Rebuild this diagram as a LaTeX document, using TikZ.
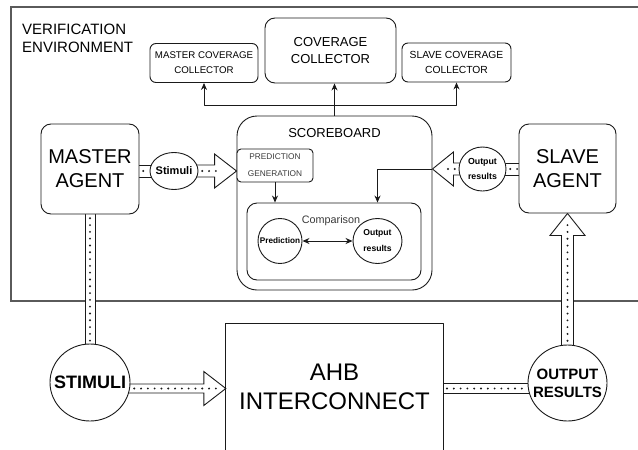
\documentclass[tikz,border=0pt]{standalone}
\usepackage{fontspec}
\setmainfont{Liberation Sans}
\usetikzlibrary{shapes.geometric,calc,arrows.meta}
\pgfdeclarelayer{back}
\pgfdeclarelayer{mid}
\pgfsetlayers{back,mid,main}
\definecolor{ink}{HTML}{1A1A1A}
\definecolor{framegray}{HTML}{5A5A5A}
\definecolor{soft}{HTML}{3A3A3A}
\newcommand{\fs}[2]{\fontsize{#1}{#2}\selectfont}

\begin{document}
\begin{tikzpicture}[x=1pt,y=-1pt,line join=round,
  box/.style={draw=ink, line width=0.9pt, fill=white, rounded corners=#1, inner sep=0pt, align=center},
  ell/.style={ellipse, draw=ink, line width=0.9pt, fill=white, inner sep=0pt},
  lbl/.style={inner sep=0pt, align=center, text=black},
  pipe/.style={draw=ink, line width=0.9pt, fill=white},
  dots/.style={draw=ink, line width=2.1pt, line cap=round, dash pattern=on 0pt off 6.8pt, dash phase=3pt},
  link/.style={draw=ink, line width=0.9pt, -{Stealth[length=7pt,width=6pt]}},
  frame/.style={draw=framegray, line width=1.5pt}]
\useasboundingbox (0,0) rectangle (638,450);

% verification environment frame, open to the right
\begin{pgfonlayer}{back}
  \draw[frame] (640,7) -- (11,7) -- (11,301) -- (640,301);
\end{pgfonlayer}
\node[anchor=north west, inner sep=0pt, align=left, font=\fs{15}{18}] (VE) at (22,24) {VERIFICATION\\ENVIRONMENT};

% agents
\node[box=10pt, minimum width=98pt, minimum height=90pt, font=\fs{20}{24}] (MA) at (90,169) {MASTER\\AGENT};
\node[box=10pt, minimum width=97pt, minimum height=89pt, font=\fs{20}{24}] (SA) at (567.5,168.5) {SLAVE\\AGENT};

% transaction bubbles near the agents
\node[ell, minimum width=48pt, minimum height=37pt, label={[lbl, font=\bfseries\fs{11}{13}]center:Stimuli}] (STI) at (174,171) {};
\node[ell, minimum width=47pt, minimum height=44pt, label={[lbl, font=\bfseries\fs{8.8}{15}]center:{Output\\results}}] (ORS) at (482.5,169) {};

% scoreboard and its contents
\node[box=20pt, minimum width=195pt, minimum height=174pt] (SB) at (334.5,203) {};
\node[font=\fs{13}{15}, inner sep=0pt] (SBT) at ($(SB.north)+(0,17)$) {SCOREBOARD};
\node[box=4pt, minimum width=76pt, minimum height=33pt, font=\fs{8.3}{17}, text=soft] (PG) at (275,165.5) {PREDICTION\\GENERATION};
\node[box=10pt, minimum width=174pt, minimum height=77pt] (CMP) at (334,241.5) {};
\node[font=\fs{10.8}{13}, text=soft, inner sep=0pt] (CMPT) at ($(CMP.north)+(-3,18)$) {Comparison};
\node[ell, minimum width=44pt, minimum height=45pt, label={[lbl, font=\bfseries\fs{8.2}{10}]center:Prediction}] (PRE) at (280,241) {};
\node[ell, minimum width=49pt, minimum height=45pt, label={[lbl, font=\bfseries\fs{8.6}{16}]center:{Output\\results}}] (OR2) at (377.5,241) {};

% coverage collectors
\node[box=6pt, minimum width=108pt, minimum height=39pt, font=\fs{9.7}{15}] (MCC) at (204,63) {MASTER COVERAGE\\COLLECTOR};
\node[box=10pt, minimum width=131pt, minimum height=65pt, font=\fs{13}{17}] (CC) at (330.5,50.5) {COVERAGE\\COLLECTOR};
\node[box=6pt, minimum width=109pt, minimum height=39pt, font=\fs{10.3}{15}] (SCC) at (456.5,62.5) {SLAVE COVERAGE\\COLLECTOR};

% DUT side
\node[ell, minimum width=80pt, minimum height=77pt, label={[lbl, font=\bfseries\fs{18}{20}]center:STIMULI}] (STIM) at (90,382.5) {};
\node[ell, minimum width=79pt, minimum height=76pt, label={[lbl, font=\bfseries\fs{15}{18}]center:{OUTPUT\\RESULTS}}] (OUT) at (567.5,383) {};
\node[anchor=north, minimum width=217pt, minimum height=127pt, inner sep=0pt, font=\fs{24}{29}, align=center] (AHB) at (334.5,323) {AHB\\INTERCONNECT};
\draw[draw=ink, line width=0.9pt] (AHB.south west) -- (AHB.north west) -- (AHB.north east) -- (AHB.south east);

% anchor points of the wide arrows
\coordinate (t1) at (PG.west |- STI.center);
\coordinate (t2) at (SB.east |- ORS.center);
\coordinate (s3) at ($(STIM.center)+(0,6)$);
\coordinate (t3) at (AHB.west |- s3);
\coordinate (s4) at ($(OUT.center)+(0,5.5)$);
\coordinate (t5) at (SA.south);

\begin{pgfonlayer}{mid}
  % master agent -> stimuli bubble
  \draw[pipe] ($(MA.center |- STI.center)+(0,-6)$) rectangle ($(STI.center)+(0,6)$);
  \draw[dots] (MA.east |- STI.center) -- (STI.west);
  % stimuli bubble -> prediction generation
  \draw[pipe] ($(STI.center)+(0,-6)$) -- ($(t1)+(-22,-6)$) -- ($(t1)+(-22,-17)$) -- (t1)
     -- ($(t1)+(-22,17)$) -- ($(t1)+(-22,6)$) -- ($(STI.center)+(0,6)$) -- cycle;
  \draw[dots] (STI.east) -- ($(t1)+(-14,0)$);
  % slave agent -> output bubble
  \draw[pipe] ($(ORS.center)+(0,-6)$) rectangle ($(SA.center |- ORS.center)+(0,6)$);
  \draw[dots] (ORS.east) -- (SA.west |- ORS.center);
  % output bubble -> scoreboard
  \draw[pipe] ($(ORS.center)+(0,-6)$) -- ($(t2)+(21,-6)$) -- ($(t2)+(21,-17)$) -- (t2)
     -- ($(t2)+(21,17)$) -- ($(t2)+(21,6)$) -- ($(ORS.center)+(0,6)$) -- cycle;
  \draw[dots] (ORS.west) -- ($(t2)+(12,0)$);
  % master agent -> STIMULI
  \draw[pipe] ($(MA.center)+(-5,0)$) rectangle ($(STIM.center)+(5,0)$);
  \draw[dots] (MA.south) -- (STIM.north);
  % STIMULI -> AHB interconnect
  \draw[pipe] ($(s3)+(0,-4.5)$) -- ($(t3)+(-22,-4.5)$) -- ($(t3)+(-22,-17)$) -- (t3)
     -- ($(t3)+(-22,17)$) -- ($(t3)+(-22,4.5)$) -- ($(s3)+(0,4.5)$) -- cycle;
  \draw[dots] (STIM.east |- s3) -- ($(t3)+(-9,0)$);
  % AHB interconnect -> OUTPUT RESULTS
  \draw[pipe] ($(AHB.east |- s4)+(0,-5)$) rectangle ($(s4)+(0,5)$);
  \draw[dots] (AHB.east |- s4) -- (OUT.west |- s4);
  % OUTPUT RESULTS -> slave agent
  \draw[pipe] ($(OUT.center)+(-6,0)$) -- ($(t5)+(-6,22)$) -- ($(t5)+(-17.5,22)$) -- (t5)
     -- ($(t5)+(17.5,22)$) -- ($(t5)+(6,22)$) -- ($(OUT.center)+(6,0)$) -- cycle;
  \draw[dots] (OUT.north) -- ($(t5)+(0,10)$);
\end{pgfonlayer}

% scoreboard to coverage collectors
\draw[link] (SB.north) -- (SB.north |- CC.south);
\draw[link] (SB.north) -- ++(0,-10) -| (MCC.south);
\draw[link] (SB.north) -- ++(0,-10) -| (SCC.south);

% inside the scoreboard
\draw[link] (PG.south) -- (PG.south |- CMP.north);
\draw[link] (t2) -| (OR2.center |- CMP.north);
\draw[link, {Stealth[length=7pt,width=6pt]}-{Stealth[length=7pt,width=6pt]}] (PRE.east) -- (OR2.west);
\end{tikzpicture}
\end{document}
